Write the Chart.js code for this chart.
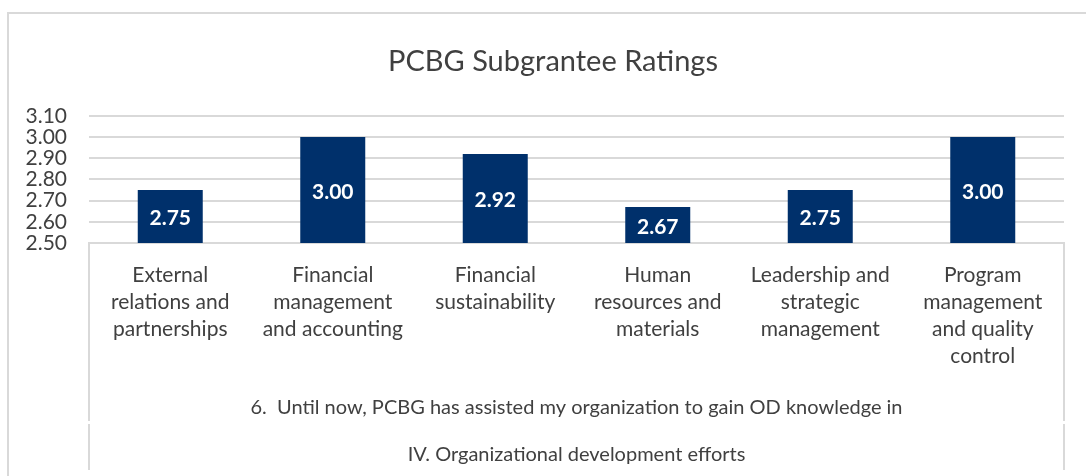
<!DOCTYPE html>
<html>
<head>
<meta charset="utf-8">
<script src="https://cdn.jsdelivr.net/npm/chart.js@4"></script>
<style>
  html, body { margin: 0; padding: 0; background: #fff; overflow: hidden; }
  #frame { position: absolute; left: 7px; top: 12px; width: 1200px; height: 600px;
           border: 2px solid #d9d9d9; box-sizing: border-box; }
  #wrap { position: absolute; left: 0; top: 0; width: 1086px; height: 476px; }
</style>
</head>
<body>
<div id="frame"></div>
<div id="wrap"><canvas id="chart"></canvas></div>
<script>
const categories = [
  ["External", "relations and", "partnerships"],
  ["Financial", "management", "and accounting"],
  ["Financial", "sustainability"],
  ["Human", "resources and", "materials"],
  ["Leadership and", "strategic", "management"],
  ["Program", "management", "and quality", "control"],
];
const ratings = [2.75, 3.00, 2.92, 2.67, 2.75, 3.00];
const groupLabels = [
  "6.  Until now, PCBG has assisted my organization to gain OD knowledge in",
  "IV. Organizational development efforts",
];
const yMin = 2.5, yMax = 3.1, yStep = 0.1;

const INK = "#404040";
const GRID = "#d9d9d9";
const BAR = "#00306b";
const FONT = "Lato, 'Open Sans', sans-serif";

// white value labels centred in the visible part of each bar
const barLabels = {
  id: "barLabels",
  afterDatasetsDraw(chart) {
    const { ctx, chartArea } = chart;
    const meta = chart.getDatasetMeta(0);
    ctx.save();
    ctx.fillStyle = "#ffffff";
    ctx.font = "bold 21px " + FONT;
    ctx.textAlign = "center";
    ctx.textBaseline = "middle";
    meta.data.forEach((bar, i) => {
      const base = Math.min(bar.base, chartArea.bottom);
      ctx.fillText(ratings[i].toFixed(2), bar.x, (bar.y + base) / 2 + 2);
    });
    ctx.restore();
  },
};

// side lines of the multi-level category box
const categoryBox = {
  id: "categoryBox",
  afterDraw(chart) {
    const { ctx, chartArea } = chart;
    const x = chart.scales.x;
    const gapY = x.bottom - 54;
    ctx.save();
    ctx.strokeStyle = GRID;
    ctx.lineWidth = 2;
    [chartArea.left, chartArea.right].forEach((px) => {
      ctx.beginPath();
      ctx.moveTo(px, chartArea.bottom);
      ctx.lineTo(px, gapY - 1);
      ctx.moveTo(px, gapY + 2);
      ctx.lineTo(px, x.bottom - 6);
      ctx.stroke();
    });
    ctx.restore();
  },
};

new Chart(document.getElementById("chart"), {
  type: "bar",
  data: {
    labels: categories,
    datasets: [{ data: ratings, backgroundColor: BAR, categoryPercentage: 1, barPercentage: 0.4 }],
  },
  options: {
    responsive: true,
    maintainAspectRatio: false,
    animation: false,
    layout: { padding: { left: 20, right: 0, top: 0, bottom: 0 } },
    plugins: {
      legend: { display: false },
      tooltip: { enabled: false },
      title: {
        display: true,
        text: "PCBG Subgrantee Ratings",
        color: INK,
        font: { family: FONT, size: 29, weight: "normal", lineHeight: 1.2 },
        padding: { top: 44, bottom: 37 },
      },
    },
    scales: {
      x: {
        afterFit: (s) => { s.height = 233; },
        grid: { display: false },
        border: { display: true, color: GRID, width: 2 },
        ticks: {
          color: INK,
          font: { family: FONT, size: 21, lineHeight: "27px" },
          padding: 11,
          maxRotation: 0,
          autoSkip: false,
        },
        title: {
          display: true,
          text: groupLabels,
          color: INK,
          font: { family: FONT, size: 20, lineHeight: "47px" },
          padding: { top: 0, bottom: -2 },
        },
      },
      y: {
        min: yMin,
        max: yMax,
        afterFit: (s) => { s.width = 69; },
        border: { display: false },
        grid: { color: GRID, lineWidth: 2, drawTicks: false },
        ticks: {
          stepSize: yStep,
          autoSkip: false,
          color: INK,
          padding: 22,
          font: { family: FONT, size: 21 },
          callback: (v) => Number(v).toFixed(2),
        },
      },
      // empty right-hand margin
      yRight: {
        type: "linear",
        position: "right",
        afterFit: (s) => { s.width = 22; },
        grid: { display: false },
        border: { display: false },
        ticks: { display: false },
      },
    },
  },
  plugins: [barLabels, categoryBox],
});
</script>
</body>
</html>
